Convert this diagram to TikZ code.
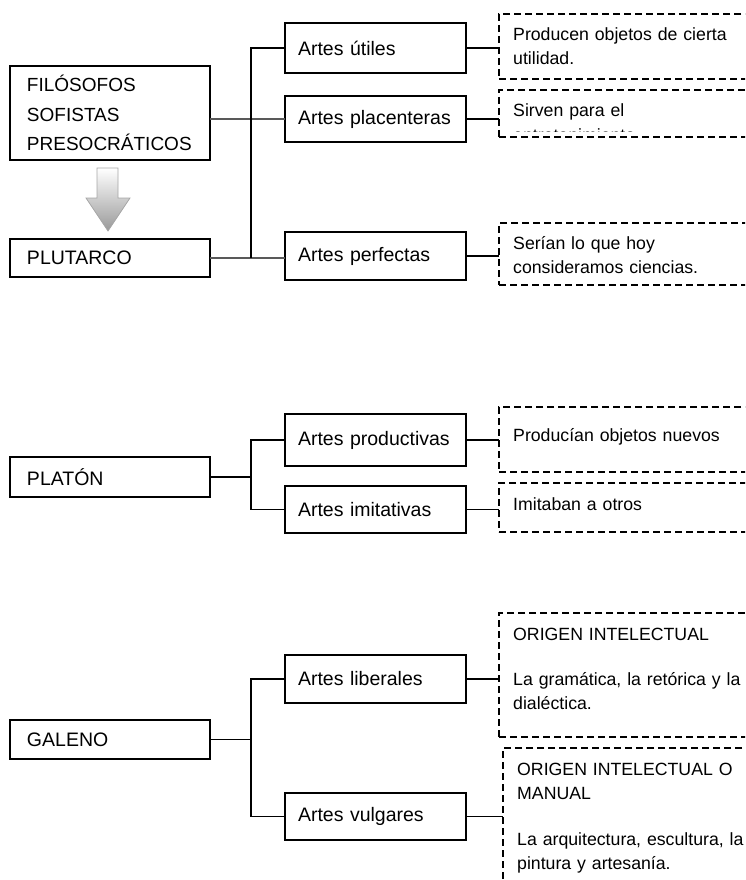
\documentclass[tikz,border=0pt]{standalone}
\usepackage{fontspec}
\setmainfont{Liberation Sans}
\usepackage{tikz}

\tikzset{
    caja/.style={draw, line width=1.8pt, anchor=north west, outer sep=0pt,
        inner ysep=2pt, align=left, font=\fontsize{19.5}{24}\selectfont},
    cajamedia/.style={caja, minimum width=181pt, text width=155pt, inner xsep=13pt},
    cajaizq/.style={caja, minimum width=200pt, text width=166pt, inner xsep=17pt},
    nota/.style={draw, dash pattern=on 7pt off 4pt, line width=1.4pt,
        anchor=north west, outer sep=0pt, minimum width=270pt},
    textonota/.style={anchor=base west, inner sep=0pt, align=left, text width=240pt,
        font=\fontsize{17.7}{24}\selectfont},
    linea/.style={line width=1.8pt},
    lineagris/.style={line width=2.6pt, black!65},
}

\begin{document}
\begin{tikzpicture}[x=1pt,y=-1pt]
    \useasboundingbox (0,0) rectangle (745,880);
    \clip (0,0) rectangle (745,880);

    % Plutarco
    \node[cajaizq, minimum height=94pt, font=\fontsize{19}{29.5}\selectfont] (filosofos) at (10,66) {FILÓSOFOS\\SOFISTAS\\PRESOCRÁTICOS};
    \node[cajaizq, minimum height=38pt] (plutarco) at (10,239) {PLUTARCO};
    \node[cajamedia, minimum height=50pt] (utiles) at (285,23) {Artes útiles};
    \node[cajamedia, minimum height=46pt] (placenteras) at (285,96) {Artes placenteras};
    \node[cajamedia, minimum height=48pt] (perfectas) at (285,232) {Artes perfectas};
    \shade[top color=white, bottom color=black!40, draw=black!35, line width=0.8pt]
        (97,168) -- (118,168) -- (118,198) -- (130,198) -- (108,231) -- (86,198) -- (97,198) -- cycle;

    % Platon
    \node[cajaizq, minimum height=40pt] (platon) at (10,457) {PLATÓN};
    \node[cajamedia, minimum height=52pt] (productivas) at (285,414) {Artes productivas};
    \node[cajamedia, minimum height=47pt] (imitativas) at (285,486) {Artes imitativas};

    % Galeno
    \node[cajaizq, minimum height=39pt] (galeno) at (10,720) {GALENO};
    \node[cajamedia, minimum height=48pt] (liberales) at (285,655) {Artes liberales};
    \node[cajamedia, minimum height=47pt] (vulgares) at (285,793) {Artes vulgares};

    % notas
    \node[nota, minimum height=65pt] (nota1) at (499,14) {};
    \node[nota, minimum height=47pt] (nota2) at (499,90) {};
    \node[nota, minimum height=62pt] (nota3) at (499,223) {};
    \node[nota, minimum height=65pt] (nota4) at (499,407) {};
    \node[nota, minimum height=49pt] (nota5) at (499,483) {};
    \node[nota, minimum height=124pt] (nota6) at (499,613) {};
    \node[nota, minimum height=150pt] (nota7) at (503,748) {};

    \node[textonota] (texto1) at (513,41) {Producen objetos de cierta\\utilidad.};
    \node[textonota] (texto2) at (513,117) {Sirven para el};
    \begin{scope}
        \clip (499,90) rectangle (760,131);
        \node[textonota] (texto2b) at (513,142) {entretenimiento};
    \end{scope}
    \node[textonota] (texto3) at (513,249) {Serían lo que hoy\\consideramos ciencias.};
    \node[textonota] (texto4) at (513,441) {Producían objetos nuevos};
    \node[textonota] (texto5) at (513,510) {Imitaban a otros};
    \node[textonota] (texto6) at (513,640) {ORIGEN INTELECTUAL\\[21pt]La gramática, la retórica y la\\dialéctica.};
    \node[textonota] (texto7) at (517,775) {ORIGEN INTELECTUAL O\\MANUAL\\[22pt]La arquitectura, escultura, la\\pintura y artesanía.};

    % conectores
    \coordinate (tronco) at (251,0);
    \draw[lineagris] (filosofos.east |- placenteras.west) -- (placenteras.west);
    \draw[lineagris] (plutarco.east) -- (plutarco.east -| perfectas.west);
    \draw[linea] (utiles.west) -| (tronco |- plutarco.east);

    \draw[linea] (platon.east) -- (platon.east -| tronco);
    \draw[linea] (productivas.west) -| (tronco |- imitativas.west) -- (imitativas.west);

    \draw[linea] (galeno.east) -- (galeno.east -| tronco);
    \draw[linea] (liberales.west) -| (tronco |- vulgares.west) -- (vulgares.west);

    \foreach \origen/\destino in {utiles/nota1, placenteras/nota2, perfectas/nota3,
        productivas/nota4, imitativas/nota5, liberales/nota6, vulgares/nota7}
        \draw[linea] (\origen.east) -- (\origen.east -| \destino.west);
\end{tikzpicture}
\end{document}
